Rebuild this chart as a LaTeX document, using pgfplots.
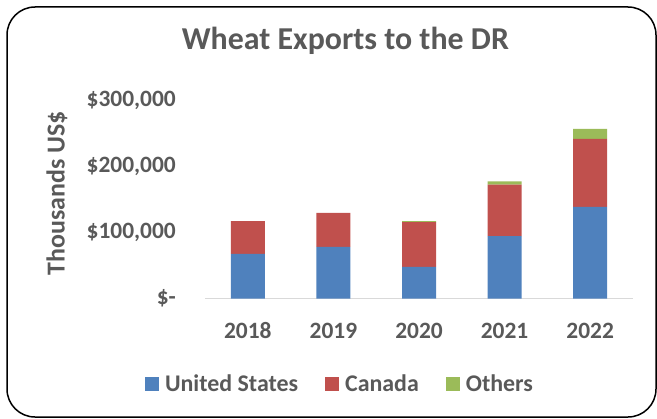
\documentclass[border=0pt]{standalone}
\usepackage{fontspec}
\setmainfont{Carlito}
\usepackage{pgfplots}
\pgfplotsset{compat=1.18}
\definecolor{txt}{HTML}{595959}
\definecolor{usblue}{HTML}{4F81BD}
\definecolor{cared}{HTML}{C0504D}
\definecolor{othgreen}{HTML}{9BBB59}
\definecolor{baseln}{HTML}{D9D9D9}
\pgfplotsset{sqleg/.style={legend image code/.code={\fill[##1] (0bp,-7bp) rectangle (14bp,7bp);}}}
\begin{document}
\begin{tikzpicture}[x=1bp,y=1bp]
\useasboundingbox (0,0) rectangle (657,418);
\draw[line width=1.5bp, rounded corners=28bp] (7,1) rectangle (656,411);
\begin{axis}[
  at={(205bp,119.5bp)}, anchor=south west,
  scale only axis, width=428bp, height=198.5bp,
  ybar stacked, bar width=34bp,
  xmin=-0.5, xmax=4.5, ymin=0, ymax=300000,
  xtick=data, xticklabels={2018,2019,2020,2021,2022},
  ytick={0,100000,200000,300000},
  yticklabels={{\$-\hspace{10bp}},{\$100,000},{\$200,000},{\$300,000}},
  scaled y ticks=false,
  major tick length=0pt,
  axis x line*=bottom, axis y line*=left,
  x axis line style={draw=baseln, line width=1.5bp},
  y axis line style={draw=none},
  tick label style={font=\fontsize{23.5}{28}\selectfont\bfseries, text=txt},
  yticklabel style={anchor=east, xshift=-29bp, inner sep=0pt},
  xticklabel style={anchor=base, yshift=-39.5bp, inner sep=0pt},
  title={Wheat Exports to the DR},
  title style={at={(axis description cs:0.328,1.2267)}, anchor=base,
    font=\fontsize{32}{38}\selectfont\bfseries, text=txt},
  ylabel={Thousands US\$},
  ylabel style={at={(axis description cs:-0.346,0.529)}, anchor=center,
    font=\fontsize{26}{31}\selectfont\bfseries, text=txt},
  legend columns=3,
  legend style={at={(axis description cs:0.313,-0.431)}, anchor=center,
    draw=none, fill=none, font=\fontsize{24}{28}\selectfont\bfseries, text=txt,
    nodes={inner sep=0pt},
    /tikz/every odd column/.append style={column sep=6bp},
    /tikz/every even column/.append style={column sep=27bp}},
]
\addplot[fill=usblue, draw=none, sqleg] coordinates {(0,67400) (1,78000) (2,47700) (3,94200) (4,138600)};
\addplot[fill=cared, draw=none, sqleg] coordinates {(0,49600) (1,51500) (2,67800) (3,77800) (4,102600)};
\addplot[fill=othgreen, draw=none, sqleg] coordinates {(0,0) (1,0) (2,1500) (3,5000) (4,15200)};
\legend{United States, Canada, Others}
\end{axis}
\end{tikzpicture}
\end{document}
